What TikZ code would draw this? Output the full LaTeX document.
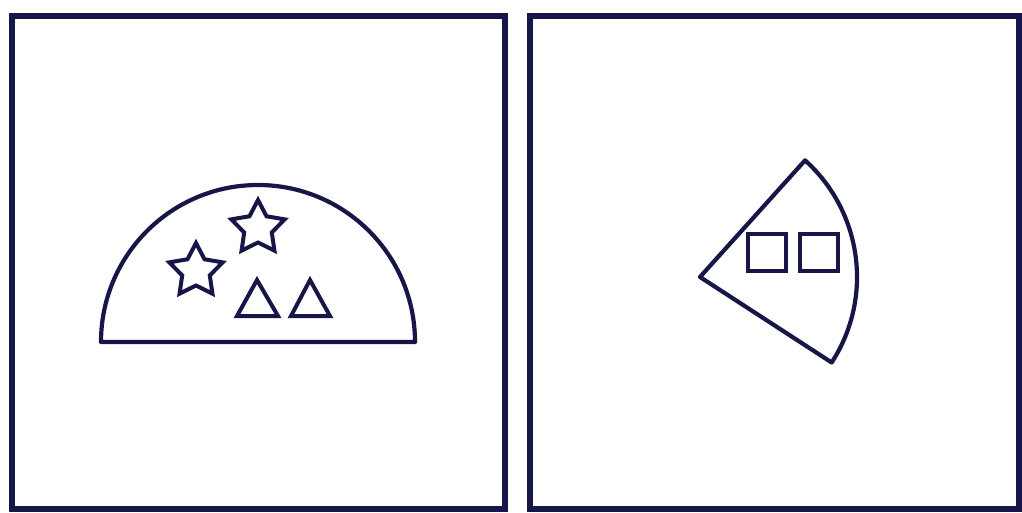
\documentclass[tikz,border=0pt]{standalone}
\usetikzlibrary{calc}
\definecolor{ink}{RGB}{22,22,72}
\begin{document}
\begin{tikzpicture}[x=1pt,y=-1pt,
  frame/.style={draw=ink,line width=5.5pt},
  figline/.style={draw=ink,line width=4.2pt,line join=round},
  smallline/.style={draw=ink,line width=4pt,line join=miter}]
\useasboundingbox (0,0) rectangle (1022,513);
% frames
\draw[frame] (12,16) rectangle (505,509);
\draw[frame] (530,16) rectangle (1019,509);
% left panel: semicircle
\draw[figline] (101,342) arc[start angle=180,end angle=360,radius=157] -- cycle;
% stars
\foreach \cx/\cy in {258/228, 196/271}{
  \draw[smallline] (\cx,\cy) ++(-90:28)
    -- ($(\cx,\cy)+(-54:14.5)$) -- ($(\cx,\cy)+(-18:28)$)
    -- ($(\cx,\cy)+(18:14.5)$) -- ($(\cx,\cy)+(54:28)$)
    -- ($(\cx,\cy)+(90:14.5)$) -- ($(\cx,\cy)+(126:28)$)
    -- ($(\cx,\cy)+(162:14.5)$) -- ($(\cx,\cy)+(198:28)$)
    -- ($(\cx,\cy)+(234:14.5)$) -- cycle;
}
% triangles
\draw[smallline] (257,280) -- (278,316) -- (237,316) -- cycle;
\draw[smallline] (310,280) -- (330,316) -- (291,316) -- cycle;
% right panel: sector
\draw[figline] (700,277) -- ++(-48:157) arc[start angle=-48,end angle=33,radius=157] -- cycle;
% squares
\draw[smallline] (748,234) rectangle (786,271);
\draw[smallline] (800,234) rectangle (838,271);
\end{tikzpicture}
\end{document}
